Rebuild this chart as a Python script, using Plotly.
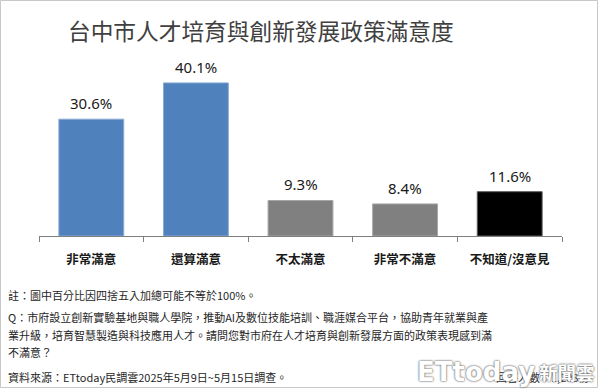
import plotly.graph_objects as go

# ---- data ----
categories = ["非常滿意", "還算滿意", "不太滿意", "非常不滿意", "不知道/沒意見"]
values = [30.6, 40.1, 9.3, 8.4, 11.6]
bar_colors = ["#4f81bd", "#4f81bd", "#808080", "#808080", "#000000"]
edge_colors = ["#8aaad6", "#8aaad6", "#a6a6a6", "#a6a6a6", "#595959"]

title_text = "台中市人才培育與創新發展政策滿意度"
note_text = "註：圖中百分比因四捨五入加總可能不等於100%。"
q_lines = [
    "Q：市府設立創新實驗基地與職人學院，推動AI及數位技能培訓、職涯媒合平台，協助青年就業與產",
    "業升級，培育智慧製造與科技應用人才。請問您對市府在人才培育與創新發展方面的政策表現感到滿",
    "不滿意？",
]
source_text = "資料來源：ETtoday民調雲2025年5月9日~5月15日調查。"
sample_text = "回答人數：1,208份"

W, H = 600, 392
L, R, T, B = 39, 38, 60, 156
PW, PH = W - L - R, H - T - B


def px_x(x):
    return (x - L) / PW


def px_y(y):
    return (H - B - y) / PH


CJK = "Noto Sans CJK TC"
FOOT = 11.0

fig = go.Figure(
    go.Bar(
        x=categories,
        y=values,
        marker=dict(color=bar_colors, line=dict(color=edge_colors, width=1)),
        cliponaxis=False,
        hoverinfo="skip",
    )
)

fig.update_layout(
    width=W,
    height=H,
    margin=dict(l=L, r=R, t=T, b=B),
    paper_bgcolor="white",
    plot_bgcolor="white",
    bargap=0.38,
    showlegend=False,
    xaxis=dict(
        showline=True,
        linecolor="#7f7f7f",
        linewidth=1,
        ticks="outside",
        ticklen=5,
        tickcolor="#7f7f7f",
        tickson="boundaries",
        tickfont=dict(family=CJK, size=12.5, color="#1a1a1a", weight="bold"),
        ticklabelstandoff=12,
        showgrid=False,
        zeroline=False,
        fixedrange=True,
    ),
    yaxis=dict(
        range=[0, 46.1],
        visible=False,
        showgrid=False,
        zeroline=False,
        fixedrange=True,
    ),
)

annotations = []
# value labels above bars (data coordinates)
for c, v in zip(categories, values):
    annotations.append(dict(text=f"{v:.1f}%", x=c, y=v, xref="x", yref="y", yanchor="bottom",
                            xanchor="center", yshift=4,
                            font=dict(family="Noto Sans", size=15, color="#1a1a1a")))

paper_ann = [
    dict(text=title_text, x=px_x(261), y=px_y(30), font=dict(family=CJK, size=22.7, color="#404040"),
         xanchor="center", yanchor="middle"),
    dict(text=note_text, x=px_x(6), y=px_y(295), font=dict(family=CJK, size=FOOT, color="#262626"),
         xanchor="left", yanchor="middle"),
]
for line, yc in zip(q_lines, [316.5, 334.5, 352]):
    paper_ann.append(dict(text=line, x=px_x(6), y=px_y(yc), font=dict(family=CJK, size=FOOT, color="#262626"),
                          xanchor="left", yanchor="middle"))
paper_ann += [
    dict(text=source_text, x=px_x(6), y=px_y(376.5), font=dict(family=CJK, size=FOOT, color="#262626"),
         xanchor="left", yanchor="middle"),
    dict(text=sample_text, x=px_x(591), y=px_y(376.5), font=dict(family=CJK, size=FOOT, color="#262626"),
         xanchor="right", yanchor="middle"),
    dict(text="ETtoday", x=px_x(537), y=px_y(372), font=dict(family="DejaVu Sans", size=26, color="white",
         weight="bold", shadow="0 0 2px #6f6f6f, 0 0 2px #6f6f6f"), xanchor="right", yanchor="middle"),
    dict(text="新聞雲", x=px_x(537), y=px_y(372), font=dict(family=CJK, size=18.5, color="white",
         weight="bold", shadow="0 0 2px #6f6f6f, 0 0 2px #6f6f6f"), xanchor="left", yanchor="middle"),
]
for a in paper_ann:
    a.update(xref="paper", yref="paper")
annotations += paper_ann
for a in annotations:
    a["showarrow"] = False
fig.update_layout(annotations=annotations)

fig.add_shape(type="rect", xref="paper", yref="paper",
              x0=px_x(0.5), x1=px_x(597.5), y0=px_y(387.5), y1=px_y(0.5),
              line=dict(color="#c8c8c8", width=1), fillcolor="rgba(0,0,0,0)", layer="above")

fig.write_html(
    "out.html",
    config={"displayModeBar": False, "staticPlot": True},
    post_script="document.body.style.margin='0';document.body.style.padding='0';document.body.style.overflow='hidden';",
)
